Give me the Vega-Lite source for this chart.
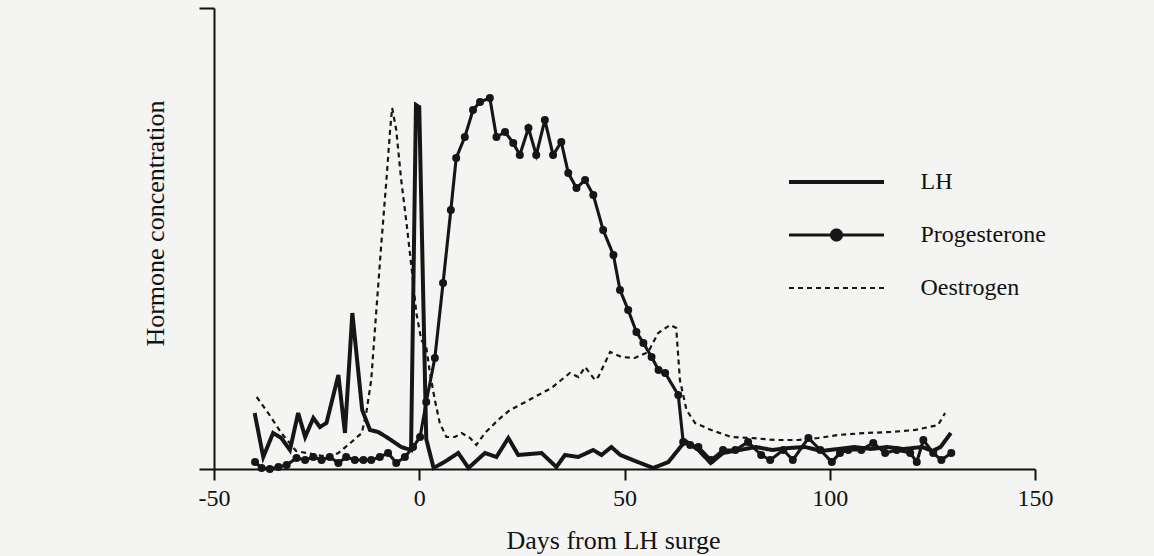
{
  "$schema": "https://vega.github.io/schema/vega-lite/v6.json",
  "width": 821,
  "height": 461,
  "autosize": {"type": "none"},
  "padding": {"left": 214, "top": 8, "right": 119, "bottom": 87},
  "background": "#f4f4f2",
  "config": {"view": {"stroke": null}, "font": "Liberation Serif"},
  "data": {
    "values": [
      {"series": "LH", "day": -40.1, "value": 56},
      {"series": "LH", "day": -38, "value": 12},
      {"series": "LH", "day": -35.6, "value": 36},
      {"series": "LH", "day": -33.6, "value": 31},
      {"series": "LH", "day": -31.5, "value": 19},
      {"series": "LH", "day": -29.5, "value": 56},
      {"series": "LH", "day": -27.8, "value": 32},
      {"series": "LH", "day": -25.8, "value": 51},
      {"series": "LH", "day": -24.2, "value": 42},
      {"series": "LH", "day": -22.6, "value": 46},
      {"series": "LH", "day": -19.7, "value": 94},
      {"series": "LH", "day": -18.1, "value": 36},
      {"series": "LH", "day": -16.3, "value": 156},
      {"series": "LH", "day": -13.9, "value": 59},
      {"series": "LH", "day": -12, "value": 39},
      {"series": "LH", "day": -10, "value": 37},
      {"series": "LH", "day": -7.6, "value": 31},
      {"series": "LH", "day": -4.4, "value": 22},
      {"series": "LH", "day": -2, "value": 19},
      {"series": "LH", "day": -0.8, "value": 364},
      {"series": "LH", "day": 0, "value": 362},
      {"series": "LH", "day": 1.7, "value": 30},
      {"series": "LH", "day": 3.5, "value": 1},
      {"series": "LH", "day": 6.5, "value": 8},
      {"series": "LH", "day": 9.5, "value": 16},
      {"series": "LH", "day": 12, "value": 1},
      {"series": "LH", "day": 16, "value": 16},
      {"series": "LH", "day": 18.8, "value": 12},
      {"series": "LH", "day": 21.7, "value": 31},
      {"series": "LH", "day": 24.1, "value": 14},
      {"series": "LH", "day": 27, "value": 15},
      {"series": "LH", "day": 29.8, "value": 16},
      {"series": "LH", "day": 33.4, "value": 2},
      {"series": "LH", "day": 35.5, "value": 14},
      {"series": "LH", "day": 38.7, "value": 12},
      {"series": "LH", "day": 42.4, "value": 19},
      {"series": "LH", "day": 44.4, "value": 14},
      {"series": "LH", "day": 46.8, "value": 22},
      {"series": "LH", "day": 49, "value": 14},
      {"series": "LH", "day": 52.6, "value": 8},
      {"series": "LH", "day": 57, "value": 1},
      {"series": "LH", "day": 60.7, "value": 7},
      {"series": "LH", "day": 64.8, "value": 28},
      {"series": "LH", "day": 68, "value": 19},
      {"series": "LH", "day": 71, "value": 6},
      {"series": "LH", "day": 74, "value": 16},
      {"series": "LH", "day": 78, "value": 19},
      {"series": "LH", "day": 82, "value": 22},
      {"series": "LH", "day": 86, "value": 19},
      {"series": "LH", "day": 90, "value": 21},
      {"series": "LH", "day": 94, "value": 22},
      {"series": "LH", "day": 98, "value": 18},
      {"series": "LH", "day": 102, "value": 20},
      {"series": "LH", "day": 106, "value": 22},
      {"series": "LH", "day": 110, "value": 20},
      {"series": "LH", "day": 114, "value": 22},
      {"series": "LH", "day": 118, "value": 20},
      {"series": "LH", "day": 122.5, "value": 22},
      {"series": "LH", "day": 125, "value": 18},
      {"series": "LH", "day": 127, "value": 22},
      {"series": "LH", "day": 129.5, "value": 36},

      {"series": "Oestrogen", "day": -39.6, "value": 72},
      {"series": "Oestrogen", "day": -36.8, "value": 56},
      {"series": "Oestrogen", "day": -33.6, "value": 36},
      {"series": "Oestrogen", "day": -30, "value": 18},
      {"series": "Oestrogen", "day": -25, "value": 14},
      {"series": "Oestrogen", "day": -22, "value": 12},
      {"series": "Oestrogen", "day": -19.7, "value": 16},
      {"series": "Oestrogen", "day": -16.5, "value": 27},
      {"series": "Oestrogen", "day": -14, "value": 36},
      {"series": "Oestrogen", "day": -12.9, "value": 56},
      {"series": "Oestrogen", "day": -11.7, "value": 89},
      {"series": "Oestrogen", "day": -10.5, "value": 156},
      {"series": "Oestrogen", "day": -9.3, "value": 222},
      {"series": "Oestrogen", "day": -8, "value": 289},
      {"series": "Oestrogen", "day": -7.1, "value": 339},
      {"series": "Oestrogen", "day": -6.6, "value": 361},
      {"series": "Oestrogen", "day": -5.6, "value": 339},
      {"series": "Oestrogen", "day": -4.4, "value": 289},
      {"series": "Oestrogen", "day": -3.1, "value": 246},
      {"series": "Oestrogen", "day": -1.9, "value": 202},
      {"series": "Oestrogen", "day": -0.7, "value": 156},
      {"series": "Oestrogen", "day": 0.5, "value": 129},
      {"series": "Oestrogen", "day": 1.7, "value": 122},
      {"series": "Oestrogen", "day": 2.6, "value": 96},
      {"series": "Oestrogen", "day": 3.8, "value": 69},
      {"series": "Oestrogen", "day": 5, "value": 46},
      {"series": "Oestrogen", "day": 6.6, "value": 32},
      {"series": "Oestrogen", "day": 8.7, "value": 32},
      {"series": "Oestrogen", "day": 10.3, "value": 36},
      {"series": "Oestrogen", "day": 12.4, "value": 31},
      {"series": "Oestrogen", "day": 13.9, "value": 24},
      {"series": "Oestrogen", "day": 16, "value": 36},
      {"series": "Oestrogen", "day": 19.2, "value": 49},
      {"series": "Oestrogen", "day": 22.1, "value": 59},
      {"series": "Oestrogen", "day": 25.4, "value": 66},
      {"series": "Oestrogen", "day": 29, "value": 74},
      {"series": "Oestrogen", "day": 32.2, "value": 81},
      {"series": "Oestrogen", "day": 34.6, "value": 89},
      {"series": "Oestrogen", "day": 36.7, "value": 96},
      {"series": "Oestrogen", "day": 38.8, "value": 92},
      {"series": "Oestrogen", "day": 40.4, "value": 102},
      {"series": "Oestrogen", "day": 42.8, "value": 89},
      {"series": "Oestrogen", "day": 43.6, "value": 92},
      {"series": "Oestrogen", "day": 46.5, "value": 117},
      {"series": "Oestrogen", "day": 49.3, "value": 112},
      {"series": "Oestrogen", "day": 52.5, "value": 111},
      {"series": "Oestrogen", "day": 55.8, "value": 117},
      {"series": "Oestrogen", "day": 58.2, "value": 136},
      {"series": "Oestrogen", "day": 61.1, "value": 144},
      {"series": "Oestrogen", "day": 62.6, "value": 141},
      {"series": "Oestrogen", "day": 63.5, "value": 89},
      {"series": "Oestrogen", "day": 65.1, "value": 59},
      {"series": "Oestrogen", "day": 67.2, "value": 46},
      {"series": "Oestrogen", "day": 71.1, "value": 39},
      {"series": "Oestrogen", "day": 76, "value": 32},
      {"series": "Oestrogen", "day": 80.9, "value": 31},
      {"series": "Oestrogen", "day": 86.7, "value": 29},
      {"series": "Oestrogen", "day": 92.3, "value": 29},
      {"series": "Oestrogen", "day": 97.2, "value": 31},
      {"series": "Oestrogen", "day": 102, "value": 34},
      {"series": "Oestrogen", "day": 108.6, "value": 36},
      {"series": "Oestrogen", "day": 115, "value": 37},
      {"series": "Oestrogen", "day": 120.8, "value": 39},
      {"series": "Oestrogen", "day": 126.4, "value": 44},
      {"series": "Oestrogen", "day": 128.1, "value": 56},

      {"series": "Progesterone", "day": -40, "value": 7},
      {"series": "Progesterone", "day": -38.4, "value": 1},
      {"series": "Progesterone", "day": -36.4, "value": 0},
      {"series": "Progesterone", "day": -34.3, "value": 2},
      {"series": "Progesterone", "day": -32.3, "value": 4},
      {"series": "Progesterone", "day": -29.9, "value": 11},
      {"series": "Progesterone", "day": -27.8, "value": 9},
      {"series": "Progesterone", "day": -25.8, "value": 12},
      {"series": "Progesterone", "day": -23.8, "value": 9},
      {"series": "Progesterone", "day": -21.8, "value": 12},
      {"series": "Progesterone", "day": -19.7, "value": 6},
      {"series": "Progesterone", "day": -17.8, "value": 12},
      {"series": "Progesterone", "day": -15.7, "value": 9},
      {"series": "Progesterone", "day": -13.6, "value": 9},
      {"series": "Progesterone", "day": -11.7, "value": 9},
      {"series": "Progesterone", "day": -9.6, "value": 12},
      {"series": "Progesterone", "day": -7.6, "value": 16},
      {"series": "Progesterone", "day": -5.6, "value": 6},
      {"series": "Progesterone", "day": -3.5, "value": 12},
      {"series": "Progesterone", "day": -1.5, "value": 22},
      {"series": "Progesterone", "day": 0.2, "value": 32},
      {"series": "Progesterone", "day": 1.7, "value": 67},
      {"series": "Progesterone", "day": 3.8, "value": 111},
      {"series": "Progesterone", "day": 5.8, "value": 186},
      {"series": "Progesterone", "day": 7.7, "value": 259},
      {"series": "Progesterone", "day": 9, "value": 311},
      {"series": "Progesterone", "day": 11.1, "value": 332},
      {"series": "Progesterone", "day": 13.1, "value": 359},
      {"series": "Progesterone", "day": 14.8, "value": 367},
      {"series": "Progesterone", "day": 17.2, "value": 371},
      {"series": "Progesterone", "day": 18.8, "value": 332},
      {"series": "Progesterone", "day": 20.9, "value": 337},
      {"series": "Progesterone", "day": 22.9, "value": 326},
      {"series": "Progesterone", "day": 24.5, "value": 314},
      {"series": "Progesterone", "day": 26.6, "value": 341},
      {"series": "Progesterone", "day": 28.5, "value": 314},
      {"series": "Progesterone", "day": 30.6, "value": 349},
      {"series": "Progesterone", "day": 32.6, "value": 314},
      {"series": "Progesterone", "day": 34.6, "value": 327},
      {"series": "Progesterone", "day": 36.3, "value": 296},
      {"series": "Progesterone", "day": 38.3, "value": 281},
      {"series": "Progesterone", "day": 40.4, "value": 289},
      {"series": "Progesterone", "day": 42.4, "value": 274},
      {"series": "Progesterone", "day": 44.8, "value": 239},
      {"series": "Progesterone", "day": 47.3, "value": 214},
      {"series": "Progesterone", "day": 48.9, "value": 179},
      {"series": "Progesterone", "day": 50.9, "value": 159},
      {"series": "Progesterone", "day": 52.9, "value": 137},
      {"series": "Progesterone", "day": 54.6, "value": 126},
      {"series": "Progesterone", "day": 56.6, "value": 112},
      {"series": "Progesterone", "day": 58.3, "value": 99},
      {"series": "Progesterone", "day": 59.9, "value": 96},
      {"series": "Progesterone", "day": 63.1, "value": 74},
      {"series": "Progesterone", "day": 64.3, "value": 27},
      {"series": "Progesterone", "day": 66, "value": 24},
      {"series": "Progesterone", "day": 68, "value": 22},
      {"series": "Progesterone", "day": 71.1, "value": 9},
      {"series": "Progesterone", "day": 74, "value": 19},
      {"series": "Progesterone", "day": 77, "value": 19},
      {"series": "Progesterone", "day": 80.1, "value": 27},
      {"series": "Progesterone", "day": 83.3, "value": 14},
      {"series": "Progesterone", "day": 85.5, "value": 9},
      {"series": "Progesterone", "day": 88.7, "value": 19},
      {"series": "Progesterone", "day": 91, "value": 9},
      {"series": "Progesterone", "day": 94.8, "value": 31},
      {"series": "Progesterone", "day": 97.7, "value": 19},
      {"series": "Progesterone", "day": 100.5, "value": 7},
      {"series": "Progesterone", "day": 102.5, "value": 16},
      {"series": "Progesterone", "day": 104.5, "value": 19},
      {"series": "Progesterone", "day": 107.7, "value": 19},
      {"series": "Progesterone", "day": 110.6, "value": 26},
      {"series": "Progesterone", "day": 113.5, "value": 16},
      {"series": "Progesterone", "day": 116.3, "value": 19},
      {"series": "Progesterone", "day": 119.6, "value": 16},
      {"series": "Progesterone", "day": 121.2, "value": 7},
      {"series": "Progesterone", "day": 122.8, "value": 29},
      {"series": "Progesterone", "day": 125.2, "value": 16},
      {"series": "Progesterone", "day": 127.2, "value": 9},
      {"series": "Progesterone", "day": 129.6, "value": 16}
    ]
  },
  "encoding": {
    "x": {
      "field": "day", "type": "quantitative",
      "scale": {"domain": [-50, 150], "nice": false, "zero": false},
      "axis": {
        "values": [-50, 0, 50, 100, 150],
        "labelExpr": "datum.value < 0 ? '-' + abs(datum.value) : datum.label",
        "title": "Days from LH surge",
        "titleFont": "Liberation Serif", "titleFontSize": 26, "titleFontWeight": "normal", "titleColor": "#111",
        "titleX": 399, "titleY": 79, "titleAlign": "center", "titleBaseline": "alphabetic",
        "labelFont": "Liberation Serif", "labelFontSize": 24, "labelColor": "#111", "labelPadding": 6, "labelFlush": false,
        "tickSize": 11, "tickWidth": 2, "tickColor": "#111",
        "domainColor": "#111", "domainWidth": 2, "grid": false
      }
    },
    "y": {
      "field": "value", "type": "quantitative",
      "scale": {"domain": [0, 461], "nice": false},
      "axis": {
        "values": [0, 461], "labels": false,
        "title": "Hormone concentration",
        "titleFont": "Liberation Serif", "titleFontSize": 26, "titleFontWeight": "normal", "titleColor": "#111",
        "titleX": -59, "titleY": 215, "titleAngle": 270, "titleAlign": "center", "titleBaseline": "middle",
        "tickSize": 15, "tickWidth": 2, "tickColor": "#111",
        "domainColor": "#111", "domainWidth": 2, "grid": false
      }
    }
  },
  "layer": [
    {
      "mark": {"type": "line", "color": "#161616"},
      "encoding": {
        "strokeDash": {
          "field": "series", "type": "nominal",
          "scale": {"domain": ["LH", "Progesterone", "Oestrogen"], "range": [[1, 0], [1, 0], [5, 4]]},
          "legend": {
            "orient": "none", "legendX": 610.5, "legendY": 162, "title": null, "padding": 0,
            "symbolType": "M-9.5,0H9.5", "symbolSize": 100, "symbolStrokeColor": "#161616",
            "labelFont": "Liberation Serif", "labelFontSize": 24, "labelColor": "#111", "labelOffset": 72,
            "rowPadding": 29,
            "encode": {
              "symbols": {
                "update": {
                  "shape": {"signal": "datum.value === 'Progesterone' ? 'M-9.5,0H9.5M-1,0A1,1 0 1,0 1,0A1,1 0 1,0 -1,0Z' : 'M-9.5,0H9.5'"},
                  "fill": {"value": "#161616"},
                  "stroke": {"value": "#161616"},
                  "strokeWidth": {"signal": "datum.value === 'LH' ? 4 : (datum.value === 'Progesterone' ? 2.2 : 2.5)"},
                  "strokeDash": {"signal": "datum.value === 'Oestrogen' ? [5, 4] : [1, 0]"},
                  "opacity": {"value": 1},
                  "strokeOpacity": {"value": 1}
                }
              }
            }
          }
        },
        "strokeWidth": {
          "field": "series", "type": "nominal",
          "scale": {"domain": ["LH", "Progesterone", "Oestrogen"], "range": [4, 2.2, 2.5]}
        }
      }
    },
    {
      "transform": [{"filter": "datum.series === 'Progesterone'"}],
      "mark": {"type": "circle", "color": "#161616", "size": 64, "opacity": 1}
    }
  ]
}
